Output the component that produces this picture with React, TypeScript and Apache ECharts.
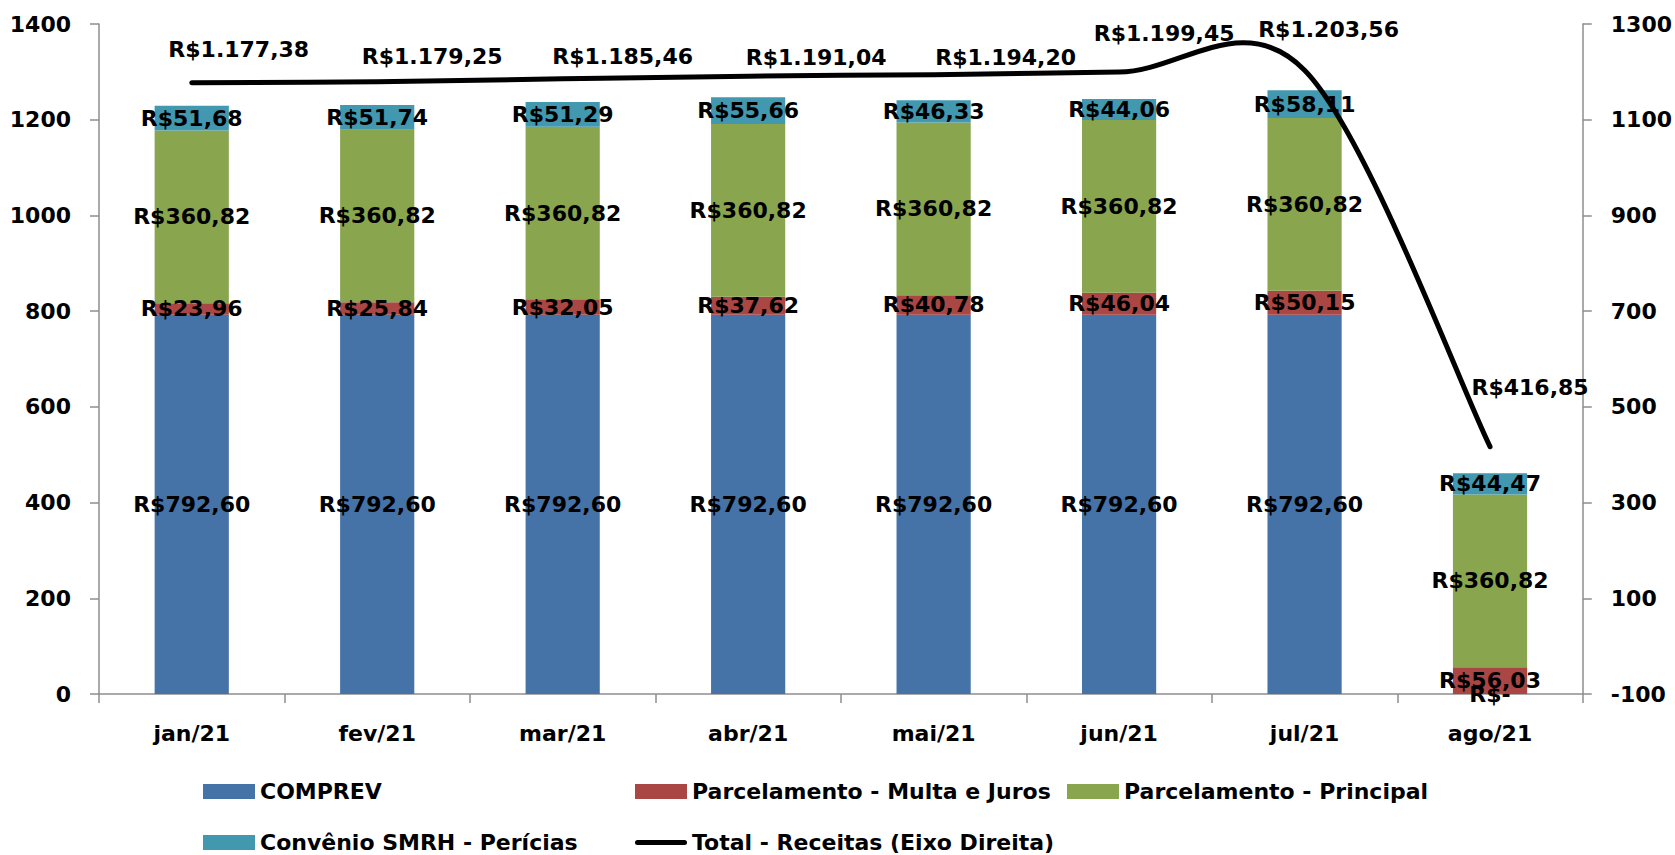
import React, { useEffect, useRef } from "react";
import * as echarts from "echarts";

const categories = ["jan/21", "fev/21", "mar/21", "abr/21", "mai/21", "jun/21", "jul/21", "ago/21"];
const comprev = [792.6, 792.6, 792.6, 792.6, 792.6, 792.6, 792.6, 0];
const multaJuros = [23.96, 25.84, 32.05, 37.62, 40.78, 46.04, 50.15, 56.03];
const principal = [360.82, 360.82, 360.82, 360.82, 360.82, 360.82, 360.82, 360.82];
const convenio = [51.68, 51.74, 51.29, 55.66, 46.33, 44.06, 58.11, 44.47];
const totalReceitas = [1177.38, 1179.25, 1185.46, 1191.04, 1194.2, 1199.45, 1203.56, 416.85];

const seriesNames = [
  "COMPREV",
  "Parcelamento - Multa e Juros",
  "Parcelamento - Principal",
  "Convênio SMRH - Perícias",
  "Total - Receitas (Eixo Direita)",
];

// layout: label shifts of the total line labels (px, relative to the point)
const lineLabelShift: [number, number][] = [
  [47, -33], [55, -25], [60, -22], [68, -19], [72, -17], [45, -39], [24, -41], [40, -59],
];

const FONT = '"DejaVu Sans", sans-serif';
const FS = 22;

function brl(v: number): string {
  if (v === 0) return "R$-";
  const fixed = Math.abs(v).toFixed(2);
  const [intPart, dec] = fixed.split(".");
  const withDots = intPart.replace(/\B(?=(\d{3})+(?!\d))/g, ".");
  return (v < 0 ? "-" : "") + "R$" + withDots + "," + dec;
}

const barLabel = {
  show: true,
  position: "inside" as const,
  color: "#000",
  fontFamily: FONT,
  fontWeight: "bold" as const,
  fontSize: FS,
  formatter: (p: any) => brl(p.value as number),
};

export default function App() {
  const ref = useRef<HTMLDivElement>(null);

  useEffect(() => {
    if (!ref.current) return;
    const chart = echarts.init(ref.current, undefined, { renderer: "svg" });

    const barSeries = [
      { name: seriesNames[0], data: comprev, color: "#4572A7" },
      { name: seriesNames[1], data: multaJuros, color: "#AA4643" },
      { name: seriesNames[2], data: principal, color: "#89A54E" },
      { name: seriesNames[3], data: convenio, color: "#4198AF" },
    ].map((s) => ({
      type: "bar" as const,
      name: s.name,
      stack: "receitas",
      barWidth: "40%",
      data: s.data,
      itemStyle: { color: s.color },
      label: barLabel,
      yAxisIndex: 0,
    }));

    const lineSeries = {
      type: "custom" as const,
      name: seriesNames[4],
      yAxisIndex: 1,
      silent: true,
      z: 10,
      itemStyle: { color: "#000" },
      data: totalReceitas.map((v, i) => [i, v]),
      encode: { x: 0, y: 1 },
      renderItem: (params: any, api: any) => {
        const idx = params.dataIndex;
        const pts = totalReceitas.map((v, i) => api.coord([i, v]));
        const children: any[] = [];
        if (idx === 0) {
          let d = `M${pts[0][0]},${pts[0][1]}`;
          for (let i = 0; i < pts.length - 1; i++) {
            const p0 = pts[i - 1] || pts[i];
            const p1 = pts[i];
            const p2 = pts[i + 1];
            const p3 = pts[i + 2] || pts[i + 1];
            const c1x = p1[0] + (p2[0] - p0[0]) / 6;
            const c1y = p1[1] + (p2[1] - p0[1]) / 6;
            const c2x = p2[0] - (p3[0] - p1[0]) / 6;
            const c2y = p2[1] - (p3[1] - p1[1]) / 6;
            d += ` C${c1x},${c1y} ${c2x},${c2y} ${p2[0]},${p2[1]}`;
          }
          children.push({
            type: "path",
            shape: { pathData: d },
            style: { fill: "none", stroke: "#000", lineWidth: 5, lineCap: "round", lineJoin: "round" },
          });
        }
        const pt = pts[idx];
        const sh = lineLabelShift[idx];
        children.push({
          type: "text",
          x: pt[0] + sh[0],
          y: pt[1] + sh[1],
          style: {
            text: brl(totalReceitas[idx]),
            fill: "#000",
            fontFamily: FONT,
            fontWeight: "bold",
            fontSize: FS,
            align: "center",
            verticalAlign: "middle",
            textAlign: "center",
            textVerticalAlign: "middle",
          },
        });
        return { type: "group", children };
      },
    };

    const axisLineStyle = { color: "#8e8e8e", width: 1.5 };
    const axisText = { color: "#000", fontFamily: FONT, fontWeight: "bold" as const, fontSize: FS };
    const plainNumber = (v: number) => String(v);

    chart.setOption({
      animation: false,
      backgroundColor: "#fff",
      grid: { left: 99, right: 91, top: 24, bottom: 161, containLabel: false },
      legend: {
        left: 203,
        top: 766,
        width: 1310,
        padding: 0,
        itemGap: 0,
        itemWidth: 52,
        itemHeight: 15,
        icon: "rect",
        textStyle: { ...axisText, width: 375, lineHeight: 51 },
        data: [
          seriesNames[0],
          seriesNames[1],
          seriesNames[2],
          seriesNames[3],
          {
            name: seriesNames[4],
            icon: "path://M2.5,0 H49.5 A2.5,2.5 0 0 1 49.5,5 H2.5 A2.5,2.5 0 0 1 2.5,0 Z",
            itemStyle: { color: "#000" },
          },
        ],
      },
      xAxis: {
        type: "category",
        data: categories,
        axisLine: { lineStyle: axisLineStyle },
        axisTick: { show: true, length: 9, lineStyle: axisLineStyle },
        axisLabel: { ...axisText, margin: 28 },
      },
      yAxis: [
        {
          type: "value",
          min: 0,
          max: 1400,
          interval: 200,
          splitLine: { show: false },
          axisLine: { show: true, lineStyle: axisLineStyle },
          axisTick: { show: true, length: 9, lineStyle: axisLineStyle },
          axisLabel: { ...axisText, margin: 28, formatter: plainNumber },
        },
        {
          type: "value",
          position: "right",
          min: -100,
          max: 1300,
          interval: 200,
          splitLine: { show: false },
          axisLine: { show: true, lineStyle: axisLineStyle },
          axisTick: { show: true, length: 9, lineStyle: axisLineStyle },
          axisLabel: { ...axisText, margin: 28, formatter: plainNumber },
        },
      ],
      series: [...barSeries, lineSeries],
    });

    return () => chart.dispose();
  }, []);

  return (
    <div
      ref={ref}
      style={{ position: "fixed", left: 0, top: 0, width: 1675, height: 855, background: "#fff" }}
    />
  );
}
